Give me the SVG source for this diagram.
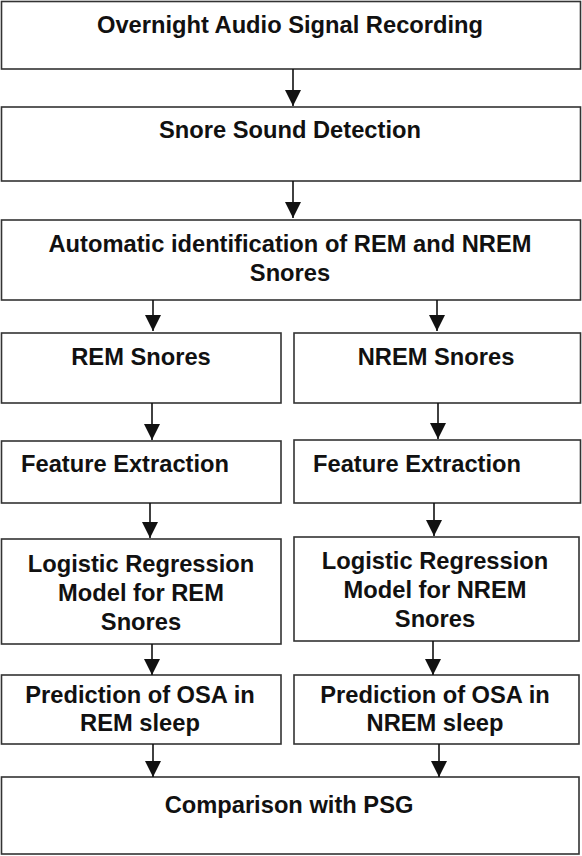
<svg xmlns="http://www.w3.org/2000/svg" width="582" height="856" viewBox="0 0 582 856">
<defs>
<style>
.box{fill:#fff;stroke:#333;stroke-width:1.6}
.t{font-family:"Liberation Sans",Arial,sans-serif;font-weight:bold;font-size:23.7px;fill:#111}
.c{text-anchor:middle}
.conn line{stroke:#111;stroke-width:1.6}
</style>
<marker id="ah" markerUnits="userSpaceOnUse" markerWidth="16" markerHeight="16" viewBox="0 0 16 16" refX="16" refY="8" orient="auto">
<path d="M0,0 L16,8 L0,16 Z" fill="#111"/>
</marker>
</defs>
<rect width="582" height="856" fill="#fff"/>
<g id="n1"><rect class="box" x="1.5" y="1.5" width="579" height="67.5"/><text class="t c" x="290" y="33">Overnight Audio Signal Recording</text></g>
<g id="n2"><rect class="box" x="1.5" y="107" width="579" height="74"/><text class="t c" x="290" y="138">Snore Sound Detection</text></g>
<g id="n3"><rect class="box" x="1.5" y="220" width="579" height="80"/><text class="t c" x="290" y="252">Automatic identification of REM and NREM</text><text class="t c" x="290" y="281">Snores</text></g>
<g id="n4"><rect class="box" x="1.5" y="333" width="279.5" height="70"/><text class="t c" x="141" y="365">REM Snores</text></g>
<g id="n5"><rect class="box" x="294" y="333" width="286.5" height="70"/><text class="t c" x="436" y="365">NREM Snores</text></g>
<g id="n6"><rect class="box" x="1.5" y="441" width="279.5" height="62"/><text class="t" x="21" y="472">Feature Extraction</text></g>
<g id="n7"><rect class="box" x="294" y="440" width="286.5" height="63"/><text class="t" x="313" y="472">Feature Extraction</text></g>
<g id="n8"><rect class="box" x="1.5" y="539" width="279.5" height="105"/><text class="t c" x="141" y="572">Logistic Regression</text><text class="t c" x="141" y="601">Model for REM</text><text class="t c" x="141" y="630">Snores</text></g>
<g id="n9"><rect class="box" x="294" y="537" width="285" height="104"/><text class="t c" x="435" y="569">Logistic Regression</text><text class="t c" x="435" y="598">Model for NREM</text><text class="t c" x="435" y="627">Snores</text></g>
<g id="n10"><rect class="box" x="1.5" y="675" width="279.5" height="69"/><text class="t c" x="140" y="703">Prediction of OSA in</text><text class="t c" x="140" y="731">REM sleep</text></g>
<g id="n11"><rect class="box" x="294" y="675" width="285" height="69"/><text class="t c" x="435" y="703">Prediction of OSA in</text><text class="t c" x="435" y="731">NREM sleep</text></g>
<g id="n12"><rect class="box" x="1.5" y="777" width="577.5" height="77"/><text class="t c" x="289" y="813">Comparison with PSG</text></g>
<g id="connectors" class="conn">
<line x1="293" y1="69" x2="293" y2="106" marker-end="url(#ah)"/>
<line x1="293" y1="181" x2="293" y2="218" marker-end="url(#ah)"/>
<line x1="153" y1="300" x2="153" y2="331" marker-end="url(#ah)"/>
<line x1="437" y1="300" x2="437" y2="331" marker-end="url(#ah)"/>
<line x1="152" y1="403" x2="152" y2="440" marker-end="url(#ah)"/>
<line x1="438" y1="403" x2="438" y2="439" marker-end="url(#ah)"/>
<line x1="150" y1="503" x2="150" y2="538" marker-end="url(#ah)"/>
<line x1="434" y1="503" x2="434" y2="536" marker-end="url(#ah)"/>
<line x1="152" y1="644" x2="152" y2="675" marker-end="url(#ah)"/>
<line x1="433" y1="641" x2="433" y2="675" marker-end="url(#ah)"/>
<line x1="153" y1="744" x2="153" y2="777" marker-end="url(#ah)"/>
<line x1="439" y1="744" x2="439" y2="777" marker-end="url(#ah)"/>
</g>
</svg>
